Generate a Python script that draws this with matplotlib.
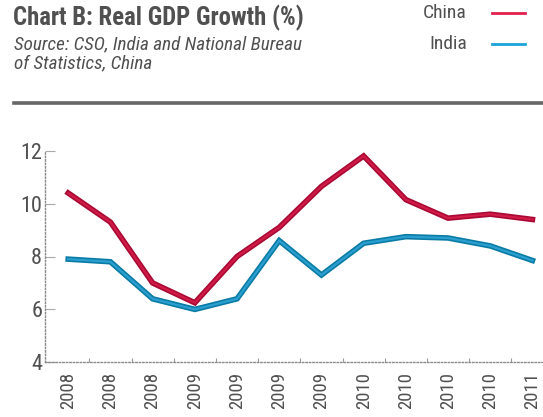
import matplotlib
matplotlib.use("Agg")
import matplotlib.pyplot as plt
from matplotlib import font_manager
from matplotlib.lines import Line2D

# pick a condensed face close to the original (Univers Condensed look)
installed = {f.name for f in font_manager.fontManager.ttflist}
candidates = ["Roboto Condensed", "Archivo Narrow", "PT Sans Narrow", "Barlow Condensed",
              "Fira Sans Condensed", "IBM Plex Sans Condensed", "Asap Condensed",
              "Encode Sans Condensed", "Liberation Sans Narrow", "Liberation Sans"]
face = next(c for c in candidates if c in installed)
plt.rcParams["font.family"] = [face, "DejaVu Sans"]

# Quarterly real GDP growth (%), Jun 2008 - Mar 2011
quarters = ["2008", "2008", "2008", "2009", "2009", "2009",
            "2009", "2010", "2010", "2010", "2010", "2011"]
china = [10.4, 9.3, 7.0, 6.25, 8.0, 9.1, 10.65, 11.8, 10.15, 9.45, 9.6, 9.4]
india = [7.9, 7.8, 6.4, 6.0, 6.4, 8.6, 7.3, 8.5, 8.75, 8.7, 8.4, 7.85]
y_ticks = [4, 6, 8, 10, 12]

W, H = 543, 417
fig = plt.figure(figsize=(W / 100, H / 100), dpi=100)
fig.patch.set_facecolor("white")

txt = "#505050"
china_dark, china_light = "#a80a35", "#d21a46"
india_dark, india_light = "#0a7ba4", "#2a9fd0"

# header
fig.text(13 / W, 1 - 5 / H, "Chart B: Real GDP Growth (%)", fontsize=17.8,
         fontweight="bold", color=txt, va="top", ha="left")
fig.text(14 / W, 1 - 35 / H, "Source: CSO, India and National Bureau\nof Statistics, China",
         fontsize=13.8, style="italic", color=txt, va="top", ha="left", linespacing=1.13)

# legend
for i, (name, col) in enumerate([("China", "#e2204c"), ("India", "#1ca3da")]):
    yc = 1 - (13 + 31 * i) / H
    fig.text(467 / W, yc, name, fontsize=14, color=txt, ha="right", va="center")
    fig.add_artist(Line2D([492 / W, 525 / W], [yc, yc], color=col, lw=2.0,
                          transform=fig.transFigure))

# separator
fig.add_artist(Line2D([14 / W, 1], [1 - 103 / H, 1 - 103 / H], color="#666666", lw=2.6,
                      transform=fig.transFigure))

ax = fig.add_axes([45 / W, (H - 362.3) / H, (W - 45) / W, (362.3 - 150.7) / H])
x = list(range(len(quarters)))
ax.plot(x, china, color=china_dark, lw=4.0, solid_joinstyle="miter", zorder=3)
ax.plot(x, china, color=china_light, lw=1.6, solid_joinstyle="miter", zorder=4)
ax.plot(x, india, color=india_dark, lw=4.0, solid_joinstyle="miter", zorder=3)
ax.plot(x, india, color=india_light, lw=1.6, solid_joinstyle="miter", zorder=4)

ax.set_ylim(4, 12)
ax.set_xlim(-0.55, 11.25)
ax.set_yticks(y_ticks)
ax.set_yticklabels([str(v) for v in y_ticks], fontsize=16, color=txt)
ax.set_xticks(x)
ax.set_xticklabels(quarters, rotation=90, fontsize=13.5, color=txt, va="top", ha="center")
ax.set_xticks([i + 0.5 for i in x[:-1]], minor=True)
ax.tick_params(axis="x", which="major", length=0, pad=7)
ax.tick_params(axis="x", which="minor", length=3, direction="in", color="#999999", width=0.8)
ax.tick_params(axis="y", length=7, direction="in", color="#aaaaaa", width=0.8, pad=2)

for s in ["top", "right"]:
    ax.spines[s].set_visible(False)
for s in ["left", "bottom"]:
    ax.spines[s].set_linestyle((0, (1, 1.5)))
    ax.spines[s].set_color("#8a8a8a")
    ax.spines[s].set_linewidth(1.0)
ax.set_facecolor("white")

fig.savefig("out.png", dpi=100)
